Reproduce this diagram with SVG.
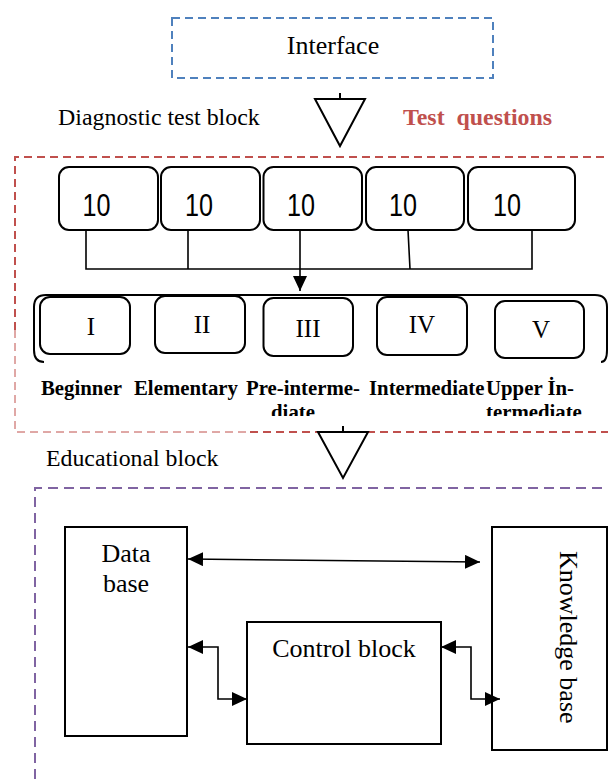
<svg xmlns="http://www.w3.org/2000/svg" width="608" height="779" viewBox="0 0 608 779">
<style>
.serif{font-family:"Liberation Serif","Times New Roman",serif;fill:#000}
.bold{font-weight:bold}
.num{font-family:"Liberation Sans",Arial,sans-serif;font-size:31px;fill:#000}
.box{fill:#fff;stroke:#000;stroke-width:2}
.rbox{fill:#fff;stroke:#000;stroke-width:2}
.line{fill:none;stroke:#000;stroke-width:1.6}
.tri{fill:#fff;stroke:#000;stroke-width:2}
</style>
<defs>
<marker id="ah" viewBox="0 0 15 14" refX="15" refY="7" markerWidth="15" markerHeight="14" markerUnits="userSpaceOnUse" orient="auto-start-reverse">
<path d="M0,0 L15,7 L0,14 z" fill="#000"/>
</marker>
<clipPath id="clipLabels"><rect x="0" y="370" width="608" height="46"/></clipPath>
</defs>
<rect width="608" height="779" fill="#fff"/>

<g id="interface">
<rect x="172" y="18" width="321" height="60" fill="none" stroke="#4f81bd" stroke-width="2" stroke-dasharray="8,5"/>
<text class="serif" x="333" y="54" font-size="26" text-anchor="middle">Interface</text>
</g>

<g id="diagnostic-block">
<path d="M15,330 L15,157 L610,157" fill="none" stroke="#c0504d" stroke-width="2" stroke-dasharray="8,5"/>
<path d="M15,330 L15,432 L250,432" fill="none" stroke="#c0504d" stroke-width="1" stroke-dasharray="8,5"/>
<path d="M250,432 L610,432" fill="none" stroke="#c0504d" stroke-width="2" stroke-dasharray="8,5"/>
<text class="serif" x="58" y="125" font-size="23.9">Diagnostic test block</text>
<text class="serif bold" x="403" y="125" font-size="23.9" style="fill:#c0504d;white-space:pre" xml:space="preserve">Test  questions</text>
</g>

<g id="triangle1">
<line x1="340" y1="93" x2="340" y2="99" stroke="#000" stroke-width="2"/>
<polygon class="tri" points="315,99 365,99 340,146"/>
</g>

<g id="q1"><rect class="rbox" x="59" y="167" width="99" height="63" rx="10"/><text class="num" x="82.5" y="216" textLength="28" lengthAdjust="spacingAndGlyphs">10</text></g>
<g id="q2"><rect class="rbox" x="161" y="167" width="99" height="63" rx="10"/><text class="num" x="185" y="216" textLength="28" lengthAdjust="spacingAndGlyphs">10</text></g>
<g id="q3"><rect class="rbox" x="263.5" y="167" width="98.5" height="63" rx="10"/><text class="num" x="287" y="216" textLength="28" lengthAdjust="spacingAndGlyphs">10</text></g>
<g id="q4"><rect class="rbox" x="366" y="167" width="98" height="63" rx="10"/><text class="num" x="389" y="216" textLength="28" lengthAdjust="spacingAndGlyphs">10</text></g>
<g id="q5"><rect class="rbox" x="468" y="167" width="107" height="63" rx="10"/><text class="num" x="493" y="216" textLength="28" lengthAdjust="spacingAndGlyphs">10</text></g>

<g id="levels-container">
<path d="M44,362 Q34,362 34,350 L34,307 Q34,295 46,295 L595,295 Q607,295 607,307 L607,350 Q607,362 601,362" fill="none" stroke="#000" stroke-width="2"/>
</g>

<g id="level1"><rect class="rbox" x="40" y="297" width="90" height="57" rx="10"/><text class="serif" x="91" y="335" font-size="25" text-anchor="middle">I</text></g>
<g id="level2"><rect class="rbox" x="155" y="296" width="90" height="57" rx="10"/><text class="serif" x="202" y="333" font-size="25" text-anchor="middle">II</text></g>
<g id="level3"><rect class="rbox" x="263.5" y="298" width="89.5" height="58" rx="10"/><text class="serif" x="308" y="337" font-size="25" text-anchor="middle">III</text></g>
<g id="level4"><rect class="rbox" x="377" y="297" width="90" height="58" rx="10"/><text class="serif" x="422" y="333" font-size="25" text-anchor="middle">IV</text></g>
<g id="level5"><rect class="rbox" x="495" y="301" width="89" height="57" rx="10"/><text class="serif" x="541" y="338" font-size="25" text-anchor="middle">V</text></g>

<g id="level-labels" clip-path="url(#clipLabels)">
<text class="serif bold" x="41" y="395" font-size="20.8">Beginner</text>
<text class="serif bold" x="134" y="395" font-size="20.8">Elementary</text>
<text class="serif bold" x="246" y="395" font-size="20.8">Pre-interme-</text>
<text class="serif bold" x="293" y="419" font-size="20.8" text-anchor="middle">diate</text>
<text class="serif bold" x="369" y="395" font-size="20.8">Intermediate</text>
<text class="serif bold" x="486" y="395" font-size="20.8">Upper İn-</text>
<text class="serif bold" x="486" y="419" font-size="20.8">termediate</text>
</g>

<g id="triangle2">
<line x1="343" y1="426" x2="343" y2="432" stroke="#000" stroke-width="2"/>
<polygon class="tri" points="318,432 368,432 343,478"/>
</g>

<g id="educational-block">
<path d="M35,779 L35,488 L610,488" fill="none" stroke="#8064a2" stroke-width="2" stroke-dasharray="10,6"/>
<text class="serif" x="46" y="466" font-size="23.8">Educational block</text>
</g>

<g id="database">
<rect class="box" x="65" y="527" width="122" height="209" stroke-width="1.6"/>
<text class="serif" x="126" y="562" font-size="26" text-anchor="middle">Data</text>
<text class="serif" x="126" y="592" font-size="26" text-anchor="middle">base</text>
</g>

<g id="control-block">
<rect class="box" x="247" y="622" width="194" height="122" stroke-width="1.6"/>
<text class="serif" x="344" y="657" font-size="26" text-anchor="middle">Control block</text>
</g>

<g id="knowledge-base">
<rect class="box" x="492" y="527" width="115" height="223" stroke-width="1.6"/>
<text class="serif" font-size="26" transform="translate(560,551) rotate(90)">Knowledge base</text>
</g>

<g id="connectors">
<path class="line" d="M86,230 L86,269 L532,269 L532,230 M188,230 L188,269 M408,230 L410,269"/>
<line class="line" x1="300" y1="230" x2="300" y2="291" marker-end="url(#ah)"/>
<line class="line" x1="188" y1="559" x2="480" y2="562" marker-start="url(#ah)" marker-end="url(#ah)"/>
<path class="line" d="M188,647 L218,647 L218,699 L247,699" marker-start="url(#ah)" marker-end="url(#ah)"/>
<path class="line" d="M441,647 L471,647 L471,699 L500,699" marker-start="url(#ah)" marker-end="url(#ah)"/>
</g>
</svg>
